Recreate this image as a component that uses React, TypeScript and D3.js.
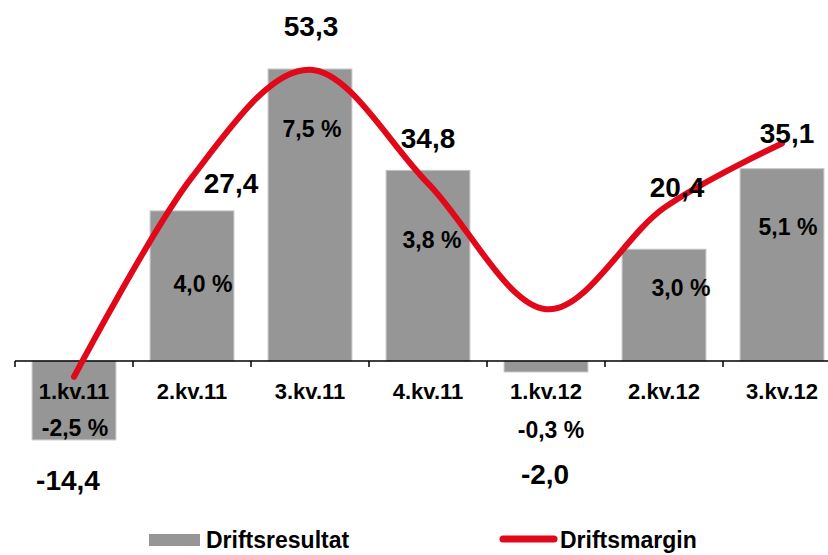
import {useEffect, useRef} from "react";
import * as d3 from "d3";

const categories = ["1.kv.11", "2.kv.11", "3.kv.11", "4.kv.11", "1.kv.12", "2.kv.12", "3.kv.12"];
const driftsresultat = [-14.4, 27.4, 53.3, 34.8, -2.0, 20.4, 35.1];
const driftsmargin = [-2.5, 4.0, 7.5, 3.8, -0.3, 3.0, 5.1];

// hand placed label nudges (like the dragged labels in the original)
const resultNudge = [[-6, 50], [39, -18], [1, -33], [0, -22], [-1, 112], [13, -52], [5, -26]];
const marginNudge = [[1, 59], [11, 115], [2, 67], [4, 65], [5, 129], [17, 88], [6, 92]];

const fmt = (v: number) => v.toFixed(1).replace(".", ",");

const App = () => {
    const ref = useRef<SVGSVGElement>(null);

    useEffect(() => {
        const width = 828, height = 555;
        const svg = d3.select(ref.current);
        svg.selectAll("*").remove();
        svg.attr("width", width).attr("height", height);

        const font = "'Liberation Sans', Arial, sans-serif";
        const red = "#e1081a";

        const x = d3.scaleBand().domain(categories).range([15, 841])
            .paddingInner(0.29).paddingOuter(0.145);
        const y = d3.scaleLinear().domain([-20, 60]).range([361 + 20 * 5.478, 361 - 60 * 5.478]);
        const y2 = d3.scaleLinear().domain([-4, 10]).range([300 + 4 * 30.7, 300 - 10 * 30.7]);
        const cx = (d: string) => (x(d) as number) + x.bandwidth() / 2;

        // bars
        svg.append("g").selectAll("rect")
            .data(driftsresultat)
            .enter().append("rect")
            .attr("x", (d, i) => x(categories[i]) as number)
            .attr("y", d => y(Math.max(0, d)))
            .attr("width", x.bandwidth())
            .attr("height", d => Math.abs(y(d) - y(0)))
            .attr("fill", "#969696")
            .attr("stroke", "#c4c4c4")
            .attr("stroke-width", 1);

        // axis
        const axis = svg.append("g");
        axis.append("line")
            .attr("x1", x.range()[0]).attr("x2", width)
            .attr("y1", y(0)).attr("y2", y(0))
            .attr("stroke", "#000").attr("stroke-width", 1.5);
        const step = x.step();
        axis.selectAll(".tick")
            .data(d3.range(categories.length + 1))
            .enter().append("line")
            .attr("x1", i => x.range()[0] + i * step)
            .attr("x2", i => x.range()[0] + i * step)
            .attr("y1", y(0)).attr("y2", y(0) + 6)
            .attr("stroke", "#000").attr("stroke-width", 1.5);

        // margin line
        const line = d3.line<number>()
            .x((d, i) => cx(categories[i]))
            .y(d => y2(d))
            .curve(d3.curveCardinal.tension(0));
        svg.append("path")
            .datum(driftsmargin)
            .attr("d", line)
            .attr("fill", "none")
            .attr("stroke", red)
            .attr("stroke-width", 6)
            .attr("stroke-linecap", "round")
            .attr("stroke-linejoin", "round");

        // category labels
        svg.append("g").selectAll("text")
            .data(categories)
            .enter().append("text")
            .attr("x", d => cx(d))
            .attr("y", y(0) + 38)
            .attr("text-anchor", "middle")
            .style("font-family", font).style("font-weight", "bold").style("font-size", "22px")
            .text(d => d);

        // value labels
        svg.append("g").selectAll("text")
            .data(driftsresultat)
            .enter().append("text")
            .attr("x", (d, i) => cx(categories[i]) + resultNudge[i][0])
            .attr("y", (d, i) => y(d) + resultNudge[i][1])
            .attr("text-anchor", "middle")
            .style("font-family", font).style("font-weight", "bold").style("font-size", "28px")
            .text(d => fmt(d));

        // margin labels
        svg.append("g").selectAll("text")
            .data(driftsmargin)
            .enter().append("text")
            .attr("x", (d, i) => cx(categories[i]) + marginNudge[i][0])
            .attr("y", (d, i) => y2(d) + marginNudge[i][1])
            .attr("text-anchor", "middle")
            .style("font-family", font).style("font-weight", "bold").style("font-size", "23px")
            .text(d => fmt(d) + " %");

        // legend
        const lg = svg.append("g").attr("transform", "translate(0,-4)");
        lg.append("rect").attr("x", 149).attr("y", 538).attr("width", 51).attr("height", 12)
            .attr("fill", "#969696");
        lg.append("text").attr("x", 206).attr("y", 552)
            .style("font-family", font).style("font-weight", "bold").style("font-size", "23px")
            .text("Driftsresultat");
        lg.append("line").attr("x1", 503).attr("x2", 554).attr("y1", 543).attr("y2", 543)
            .attr("stroke", red).attr("stroke-width", 7).attr("stroke-linecap", "round");
        lg.append("text").attr("x", 560).attr("y", 552)
            .style("font-family", font).style("font-weight", "bold").style("font-size", "23px")
            .text("Driftsmargin");
    }, []);

    return (
        <div>
            <svg ref={ref} style={{position: "absolute", left: 0, top: 0}}></svg>
        </div>
    );
};

export default App;
